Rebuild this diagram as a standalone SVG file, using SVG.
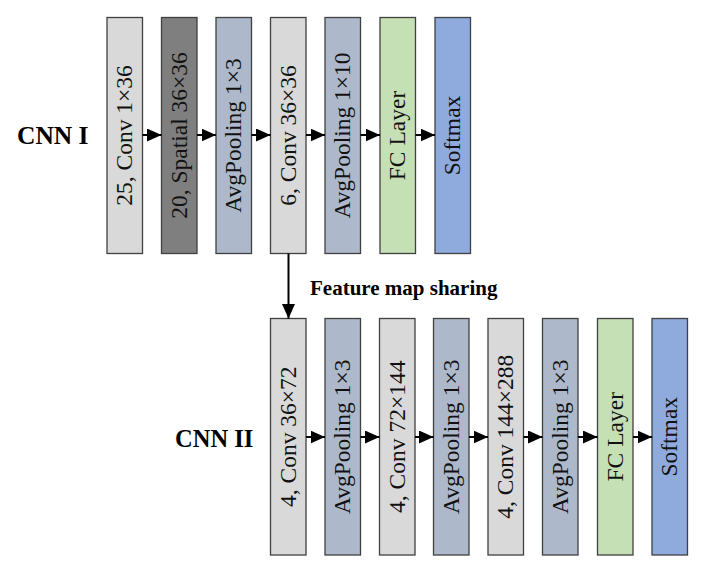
<svg xmlns="http://www.w3.org/2000/svg" width="713" height="569" viewBox="0 0 713 569">
<defs>
<style>
.box{stroke:#404040;stroke-width:1.3}
.g{fill:#d9d9d9}.d{fill:#7f7f7f}.b{fill:#adb9ca}.f{fill:#c5e0b4}.s{fill:#8faadc}
.t{font-family:"Liberation Serif","Times New Roman",serif;font-size:23.5px;fill:#111;text-anchor:middle}
.h{font-family:"Liberation Serif","Times New Roman",serif;font-weight:bold;fill:#000}
.c{stroke:#000;stroke-width:2;fill:none}
</style>
<marker id="ah" markerUnits="userSpaceOnUse" markerWidth="15" markerHeight="13" refX="14.5" refY="6.5" orient="auto">
<path d="M0,0 L14.5,6.5 L0,13 Z" fill="#000"/>
</marker>
</defs>
<rect width="713" height="569" fill="#fff"/>
<text class="h" x="17" y="144" font-size="25.5">CNN I</text>
<text class="h" x="175" y="446.5" font-size="24.5">CNN II</text>
<text class="h" x="310" y="295" font-size="21">Feature map sharing</text>

<g id="n1"><rect class="box g" x="107" y="17.5" width="35.5" height="236"/><text class="t" transform="translate(124.75,135.5) rotate(-90)" y="7.5">25, Conv 1×36</text></g>
<g id="n2"><rect class="box d" x="161.5" y="17.5" width="35.5" height="236"/><text class="t" transform="translate(179.25,135.5) rotate(-90)" y="7.5">20, Spatial 36×36</text></g>
<g id="n3"><rect class="box b" x="216" y="17.5" width="35.5" height="236"/><text class="t" transform="translate(233.75,135.5) rotate(-90)" y="7.5">AvgPooling 1×3</text></g>
<g id="n4"><rect class="box g" x="270.5" y="17.5" width="35.5" height="236"/><text class="t" transform="translate(288.25,135.5) rotate(-90)" y="7.5">6, Conv 36×36</text></g>
<g id="n5"><rect class="box b" x="325" y="17.5" width="35.5" height="236"/><text class="t" transform="translate(342.75,135.5) rotate(-90)" y="7.5">AvgPooling 1×10</text></g>
<g id="n6"><rect class="box f" x="380" y="17.5" width="35.5" height="236"/><text class="t" transform="translate(397.75,135.5) rotate(-90)" y="7.5">FC Layer</text></g>
<g id="n7"><rect class="box s" x="435" y="17.5" width="35.5" height="236"/><text class="t" transform="translate(452.75,135.5) rotate(-90)" y="7.5">Softmax</text></g>

<g id="m1"><rect class="box g" x="270.5" y="318.5" width="35.5" height="236.5"/><text class="t" transform="translate(288.25,436.75) rotate(-90)" y="7.5">4, Conv 36×72</text></g>
<g id="m2"><rect class="box b" x="325" y="318.5" width="35.5" height="236.5"/><text class="t" transform="translate(342.75,436.75) rotate(-90)" y="7.5">AvgPooling 1×3</text></g>
<g id="m3"><rect class="box g" x="379.5" y="318.5" width="35.5" height="236.5"/><text class="t" transform="translate(397.25,436.75) rotate(-90)" y="7.5">4, Conv 72×144</text></g>
<g id="m4"><rect class="box b" x="433.5" y="318.5" width="35.5" height="236.5"/><text class="t" transform="translate(451.25,436.75) rotate(-90)" y="7.5">AvgPooling 1×3</text></g>
<g id="m5"><rect class="box g" x="488" y="318.5" width="35.5" height="236.5"/><text class="t" transform="translate(505.75,436.75) rotate(-90)" y="7.5">4, Conv 144×288</text></g>
<g id="m6"><rect class="box b" x="542.5" y="318.5" width="35.5" height="236.5"/><text class="t" transform="translate(560.25,436.75) rotate(-90)" y="7.5">AvgPooling 1×3</text></g>
<g id="m7"><rect class="box f" x="597.5" y="318.5" width="35.5" height="236.5"/><text class="t" transform="translate(615.25,436.75) rotate(-90)" y="7.5">FC Layer</text></g>
<g id="m8"><rect class="box s" x="652" y="318.5" width="35.5" height="236.5"/><text class="t" transform="translate(669.75,436.75) rotate(-90)" y="7.5">Softmax</text></g>

<g id="connectors">
<line class="c" x1="142.5" y1="135" x2="161.5" y2="135" marker-end="url(#ah)"/>
<line class="c" x1="197" y1="135" x2="216" y2="135" marker-end="url(#ah)"/>
<line class="c" x1="251.5" y1="135" x2="270.5" y2="135" marker-end="url(#ah)"/>
<line class="c" x1="306" y1="135" x2="325" y2="135" marker-end="url(#ah)"/>
<line class="c" x1="360.5" y1="135" x2="380" y2="135" marker-end="url(#ah)"/>
<line class="c" x1="415.5" y1="135" x2="435" y2="135" marker-end="url(#ah)"/>
<line class="c" x1="288.5" y1="253.5" x2="288.5" y2="318.5" marker-end="url(#ah)"/>
<line class="c" x1="306" y1="437" x2="325" y2="437" marker-end="url(#ah)"/>
<line class="c" x1="360.5" y1="437" x2="379.5" y2="437" marker-end="url(#ah)"/>
<line class="c" x1="415" y1="437" x2="433.5" y2="437" marker-end="url(#ah)"/>
<line class="c" x1="469" y1="437" x2="488" y2="437" marker-end="url(#ah)"/>
<line class="c" x1="523.5" y1="437" x2="542.5" y2="437" marker-end="url(#ah)"/>
<line class="c" x1="578" y1="437" x2="597.5" y2="437" marker-end="url(#ah)"/>
<line class="c" x1="633" y1="437" x2="652" y2="437" marker-end="url(#ah)"/>
</g>
</svg>
